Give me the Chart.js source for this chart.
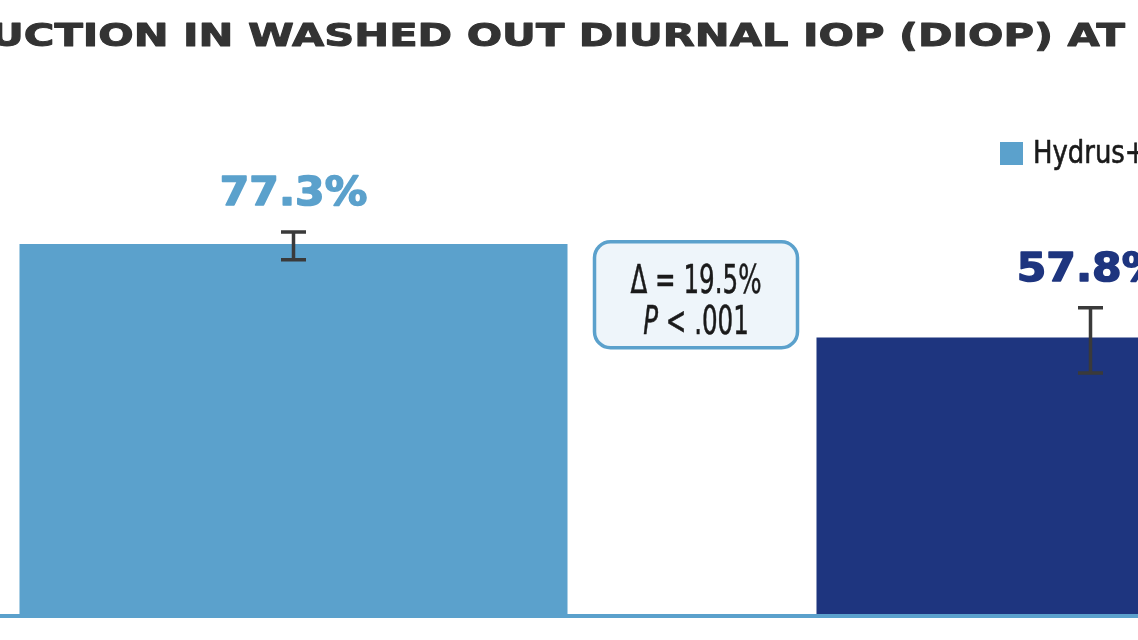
<!DOCTYPE html>
<html>
<head>
<meta charset="utf-8">
<script src="https://cdn.jsdelivr.net/npm/chart.js@4.4.1/dist/chart.umd.min.js"></script>
<style>
html, body { margin: 0; padding: 0; width: 1138px; height: 640px; overflow: hidden; background: #fff; }
#wrap { position: absolute; left: -105px; top: 0; width: 1594px; height: 640px; }
</style>
</head>
<body>
<div id="wrap"><canvas id="chart" width="1594" height="640"></canvas></div>
<script>
// donnees
const titleText = '≥20% REDUCTION IN WASHED OUT DIURNAL IOP (DIOP) AT 24 MONTHS'
const titleVisiblePart = 'UCTION IN WASHED OUT DIURNAL IOP (DIOP) AT'
const categories = ['Hydrus+CS', 'CS Alone']
const reductionValues = [77.3, 57.8]
const errorLow = [74.0, 50.4]
const errorHigh = [79.8, 64.0]
const valueLabels = ['77.3%', '57.8%']
const deltaLines = ['Δ = 19.5%', 'P < .001']

const barColors = ['#5ba1cc', '#1e357f']
const narrowFont = '"Liberation Sans Narrow", "DejaVu Sans Condensed", "Roboto", sans-serif'

// texte etire horizontalement, avec un leger contour pour epaissir
function stretchText(ctx, text, x, y, sx, align, stroke) {
    ctx.save()
    ctx.translate(x, y)
    ctx.scale(sx, 1)
    ctx.textAlign = align
    ctx.fillText(text, 0, 0)
    if (stroke) {
        ctx.strokeStyle = ctx.fillStyle
        ctx.lineWidth = stroke
        ctx.lineJoin = 'round'
        ctx.strokeText(text, 0, 0)
    }
    ctx.restore()
}

const decorPlugin = {
    id: 'decor',
    afterDatasetsDraw(chart) {
        const ctx = chart.ctx
        const y = chart.scales.y
        const bars = chart.getDatasetMeta(0).data
        const area = chart.chartArea

        // ligne de base
        ctx.save()
        ctx.strokeStyle = '#5ba1cc'
        ctx.lineWidth = 4
        ctx.beginPath()
        ctx.moveTo(area.left, y.getPixelForValue(0) + 1)
        ctx.lineTo(area.right, y.getPixelForValue(0) + 1)
        ctx.stroke()

        // barres d'erreur
        ctx.strokeStyle = '#3a3a3a'
        ctx.lineWidth = 3.5
        bars.forEach((bar, i) => {
            const top = y.getPixelForValue(errorHigh[i])
            const bottom = y.getPixelForValue(errorLow[i])
            ctx.beginPath()
            ctx.moveTo(bar.x, top); ctx.lineTo(bar.x, bottom)
            ctx.moveTo(bar.x - 12.5, top); ctx.lineTo(bar.x + 12.5, top)
            ctx.moveTo(bar.x - 12.5, bottom); ctx.lineTo(bar.x + 12.5, bottom)
            ctx.stroke()
        })

        // valeurs au-dessus des barres
        ctx.font = 'bold 39px "DejaVu Sans"'
        ctx.textBaseline = 'alphabetic'
        bars.forEach((bar, i) => {
            ctx.fillStyle = barColors[i]
            stretchText(ctx, valueLabels[i], bar.x, y.getPixelForValue(errorHigh[i]) - 27, 1.09, 'center', 1.5)
        })

        // encadre delta
        const cx = (bars[0].x + bars[1].x) / 2 + 4
        const cy = (bars[0].y + bars[1].y) / 2 + 4
        const w = 203, h = 106
        ctx.fillStyle = '#eef5fa'
        ctx.strokeStyle = '#5ba1cc'
        ctx.lineWidth = 3.5
        ctx.beginPath()
        ctx.roundRect(cx - w / 2, cy - h / 2, w, h, 16)
        ctx.fill()
        ctx.stroke()

        const sx = 0.7
        ctx.fillStyle = '#1a1a1a'
        ctx.font = '39px ' + narrowFont
        stretchText(ctx, deltaLines[0], cx, cy - 2, sx, 'center', 0.5)
        // P en italique
        const pLetter = deltaLines[1].slice(0, 1)
        const rest = deltaLines[1].slice(1)
        ctx.font = 'italic 39px ' + narrowFont
        const wp = ctx.measureText(pLetter).width * sx
        ctx.font = '39px ' + narrowFont
        const wr = ctx.measureText(rest).width * sx
        const x0 = cx - (wp + wr) / 2
        ctx.font = 'italic 39px ' + narrowFont
        stretchText(ctx, pLetter, x0, cy + 39, sx, 'left', 0.5)
        ctx.font = '39px ' + narrowFont
        stretchText(ctx, rest, x0 + wp, cy + 39, sx, 'left', 0.5)
        ctx.restore()
    },
    afterDraw(chart) {
        const ctx = chart.ctx
        ctx.save()
        // titre (coupe des deux cotes comme sur l'image)
        ctx.fillStyle = '#333333'
        ctx.font = 'bold 32px "DejaVu Sans"'
        const cut = titleText.indexOf(titleVisiblePart)
        const wPre = ctx.measureText(titleText.slice(0, cut)).width
        const wVis = ctx.measureText(titleVisiblePart).width
        const sx = 1135 / wVis
        stretchText(ctx, titleText, 95 - wPre * sx, 46, sx, 'left', 1.0)

        // legende
        ctx.font = '32px ' + narrowFont
        let lx = 1105
        categories.forEach((label, i) => {
            ctx.fillStyle = barColors[i]
            ctx.fillRect(lx, 142, 23, 23)
            ctx.fillStyle = '#1a1a1a'
            stretchText(ctx, label, lx + 33, 163, 0.9, 'left', 0.6)
            lx += 33 + ctx.measureText(label).width * 0.9 + 30
        })
        ctx.restore()
    }
}

const data = {
    labels: categories,
    datasets: [{
        label: 'Reduction DIOP',
        data: reductionValues,
        backgroundColor: barColors,
        borderWidth: 0,
        categoryPercentage: 1,
        barPercentage: 0.6876
    }]
}

const config = {
    type: 'bar',
    data: data,
    options: {
        responsive: false,
        devicePixelRatio: 1,
        animation: false,
        layout: { padding: { top: 135, bottom: 25, left: 0, right: 0 } },
        scales: {
            x: { display: false },
            y: { display: false, min: 0, max: 100 }
        },
        plugins: { legend: { display: false }, tooltip: { enabled: false } }
    },
    plugins: [decorPlugin]
}

const myChart = new Chart(document.getElementById('chart'), config)
</script>
</body>
</html>
